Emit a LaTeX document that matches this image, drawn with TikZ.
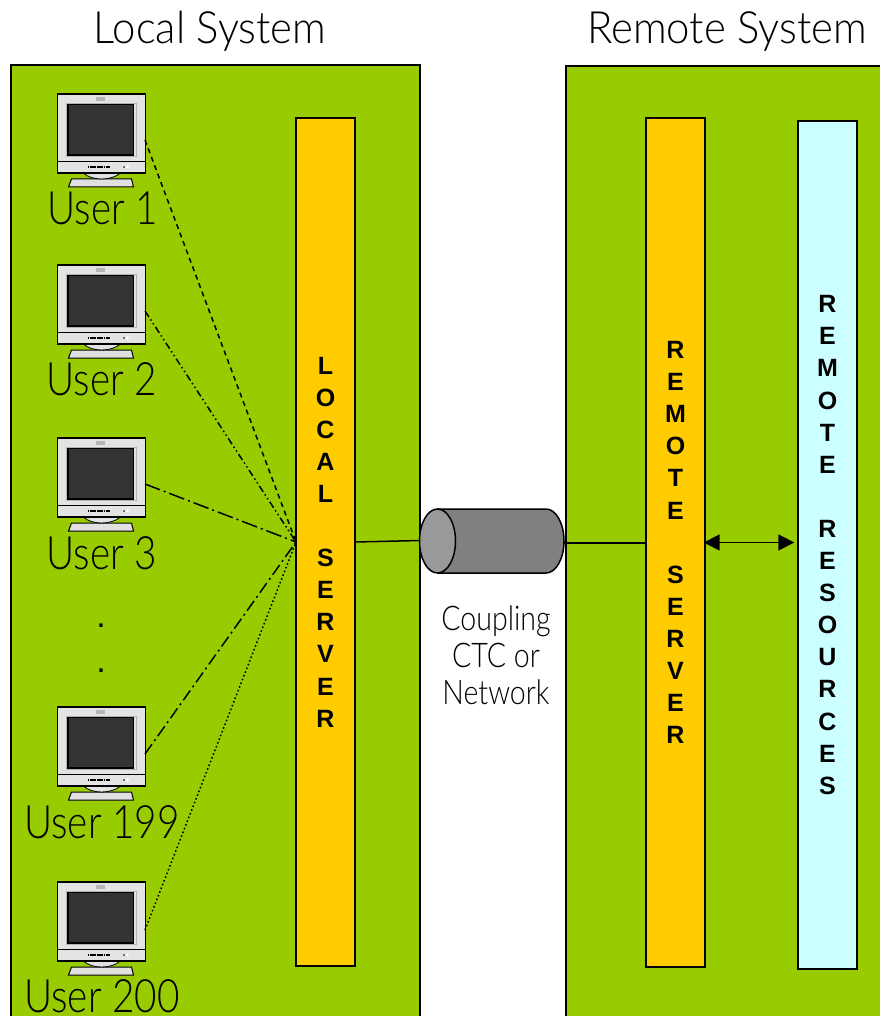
\documentclass[tikz,border=0pt]{standalone}
\usepackage{fontspec}
\usetikzlibrary{arrows.meta}
\setmainfont[UprightFont=* Light,FakeStretch=0.84]{Lato}
\newfontfamily\titlefont[UprightFont=* Light,FakeStretch=0.94]{Lato}
\newfontfamily\barfont{Liberation Sans}
\definecolor{panelgreen}{HTML}{99CC00}
\definecolor{barorange}{HTML}{FFCC00}
\definecolor{barcyan}{HTML}{CCFFFF}
\definecolor{cylbody}{HTML}{808080}
\definecolor{cylface}{HTML}{999999}
\definecolor{monbody}{HTML}{E3E3E3}
\definecolor{monscreen}{HTML}{333333}
\tikzset{
  x=1pt,y=-1pt,
  panel/.style={draw=black,line width=1.6pt,fill=panelgreen},
  barbox/.style={draw=black,line width=1.3pt,minimum width=59pt,inner sep=0pt,align=center,
    font=\barfont\bfseries\fontsize{25}{32.1}\selectfont},
  title/.style={font=\titlefont\fontsize{44.5}{48}\selectfont,inner sep=0pt,anchor=base},
  userlabel/.style={font=\fontsize{46}{48}\selectfont,inner sep=0pt,anchor=base},
  dotlabel/.style={font=\barfont\fontsize{34}{36}\selectfont,inner sep=0pt,anchor=base},
  caplabel/.style={font=\fontsize{34}{37}\selectfont,inner sep=0pt,align=center},
  link/.style={line width=1.5pt},
  monitor/.pic={
    \fill[monbody] (0,0) rectangle (88,79);
    \draw[line width=1pt,fill=white!88!black] (11,93) -- (14,85) -- (74,85) -- (76,93) -- cycle;
    \draw[line width=0.8pt,fill=monbody] (26,79) .. controls (34,87) and (54,87) .. (63,79);
    \draw[line width=1.3pt] (0,0) rectangle (88,79);
    \fill[gray!60] (8,9) rectangle (79,63);
    \fill[monbody] (9,10) rectangle (78,62);
    \fill[monbody!80!black] (38,3) rectangle (47,7);
    \draw[line width=1.1pt,fill=monscreen] (10.5,10.5) rectangle (76,61);
    \draw[line width=0.7pt] (0,67) -- (88,67);
    \draw[line width=2.6pt,dash pattern=on 1.8pt off 0.5pt] (30,73) -- (52,73);
    \fill[black] (66.5,73) circle (0.9pt);
    \fill[white] (70,73) circle (1.6pt);
  }
}
\begin{document}
\begin{tikzpicture}
\useasboundingbox (0,0) rectangle (879,1016);
\fill[white] (0,0) rectangle (879,1016);
\path[panel] (11,1030) -- (11,65) -- (420,65) -- (420,1030);
\path[panel] (566,1030) -- (566,66) -- (890,66) -- (890,1030);
\node[title] (ltitle) at (210,44) {Local System};
\node[title] (rtitle) at (727,44) {Remote System};

\node[barbox,fill=barorange,minimum height=848pt] (lserver) at (325.5,542)
  {L\\O\\C\\A\\L\\~\\S\\E\\R\\V\\E\\R};
\node[barbox,fill=barorange,minimum height=849pt] (rserver) at (675.5,542.5)
  {R\\E\\M\\O\\T\\E\\~\\S\\E\\R\\V\\E\\R};
\node[barbox,fill=barcyan,minimum height=848pt] (rres) at (827.5,545)
  {R\\E\\M\\O\\T\\E\\~\\R\\E\\S\\O\\U\\R\\C\\E\\S};

\path (57.5,94) pic {monitor};
\path (57.5,265) pic {monitor};
\path (57.5,438) pic {monitor};
\path (57.5,707) pic {monitor};
\path (57.5,882) pic {monitor};
\coordinate (u1) at (145,140);
\coordinate (u2) at (145,311);
\coordinate (u3) at (145,484);
\coordinate (u199) at (145,754);
\coordinate (u200) at (145,930);
\coordinate (hub) at (296,542);

\node[userlabel] (l1) at (103,225) {User 1};
\node[userlabel] (l2) at (102,395) {User 2};
\node[userlabel] (l3) at (102,569) {User 3};
\node[userlabel] (l199) at (102,838) {User 199};
\node[userlabel] (l200) at (102,1012) {User 200};
\node[dotlabel] (d1) at (101,627) {.};
\node[dotlabel] (d2) at (101,672) {.};

\draw[link,dash pattern=on 5pt off 4pt] (u1) -- (hub);
\draw[link,dash pattern=on 7pt off 3pt on 1.5pt off 3pt on 1.5pt off 3pt] (u2) -- (hub);
\draw[link,dash pattern=on 16pt off 4pt on 2pt off 4pt] (u3) -- (hub);
\draw[link,dash pattern=on 12pt off 4pt on 2pt off 4pt] (u199) -- (hub);
\draw[link,dash pattern=on 1.6pt off 2.4pt] (u200) -- (hub);

\draw[line width=1.5pt,fill=cylbody] (437.5,509) -- (546,509) arc[start angle=-90,end angle=90,x radius=18,y radius=32] -- (437.5,573);
\draw[line width=1.5pt,fill=cylface] (437.5,541) ellipse[x radius=18,y radius=32];
\coordinate (cylL) at (420,540.5);
\coordinate (cylR) at (564,543);
\draw[link] (lserver.east |- 0,542) -- (cylL);
\draw[link] (cylR) -- (rserver.west |- cylR);
\draw[line width=1.5pt,{Stealth[length=16pt,width=16pt,inset=0pt]}-{Stealth[length=16pt,width=16pt,inset=0pt]},shorten >=3pt,shorten <=-2pt] (rserver.east |- 0,542.5) -- (rres.west |- 0,542.5);

\node[caplabel] (coupling) at (496,655) {Coupling\\CTC or\\Network};
\end{tikzpicture}
\end{document}
